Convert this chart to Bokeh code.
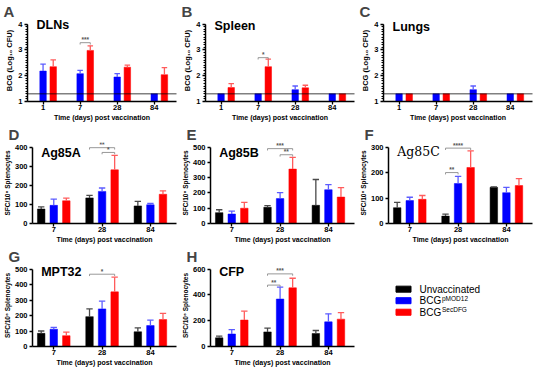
import numpy as np
from bokeh.plotting import figure
from bokeh.models import Range1d, FixedTicker, Span, Label
from bokeh.layouts import column, row
from bokeh.embed import file_html
from bokeh.resources import INLINE
from bokeh.core.properties import value

# ---------------- data ----------------
bcg_days = ["1", "7", "28", "84"]
elispot_days = ["7", "28", "84"]
group_names = ["Unvaccinated", "BCG", "BCG"]
group_sups = ["", "pMOD12", "SecDFG"]

dln_pmod = [2.18, 2.08, 1.95, 1.30]
dln_pmod_err = [0.27, 0.13, 0.13, 0.0]
dln_sec = [2.35, 2.98, 2.33, 2.04]
dln_sec_err = [0.26, 0.18, 0.08, 0.27]
spl_pmod = [1.30, 1.30, 1.46, 1.30]
spl_pmod_err = [0.0, 0.0, 0.14, 0.0]
spl_sec = [1.54, 2.35, 1.53, 1.30]
spl_sec_err = [0.15, 0.29, 0.10, 0.0]
lung_pmod = [1.30, 1.30, 1.46, 1.30]
lung_pmod_err = [0.0, 0.0, 0.14, 0.0]
lung_sec = [1.30, 1.30, 1.30, 1.30]
lung_sec_err = [0.0, 0.0, 0.0, 0.0]
detection_limit = 1.3

ag85a_unvac = [76, 134, 92]
ag85a_unvac_err = [11, 13, 24]
ag85a_pmod = [95, 168, 98]
ag85a_pmod_err = [33, 18, 7]
ag85a_sec = [119, 281, 153]
ag85a_sec_err = [14, 76, 18]

ag85b_unvac = [71, 106, 119]
ag85b_unvac_err = [19, 11, 169]
ag85b_pmod = [62, 163, 221]
ag85b_pmod_err = [19, 39, 33]
ag85b_sec = [100, 356, 173]
ag85b_sec_err = [38, 77, 62]

ag85c_unvac = [62, 29, 142]
ag85c_unvac_err = [21, 8, 2]
ag85c_pmod = [90, 157, 121]
ag85c_pmod_err = [13, 28, 21]
ag85c_sec = [95, 220, 149]
ag85c_sec_err = [15, 65, 27]

mpt32_unvac = [85, 193, 95]
mpt32_unvac_err = [15, 50, 25]
mpt32_pmod = [112, 243, 135]
mpt32_pmod_err = [12, 50, 35]
mpt32_sec = [70, 353, 174]
mpt32_sec_err = [23, 95, 40]

cfp_unvac = [67, 113, 101]
cfp_unvac_err = [13, 30, 23]
cfp_pmod = [97, 368, 191]
cfp_pmod_err = [34, 92, 62]
cfp_sec = [205, 455, 212]
cfp_sec_err = [69, 74, 50]

sig_dln = [(1, 1, 2, 3.28, "***")]
sig_spl = [(1, 1, 2, 2.70, "*")]
sig_ag85a = [(1, 0, 2, 397, "**"), (1, 1, 2, 372, "*")]
sig_ag85b = [(1, 0, 2, 490, "***"), (1, 1, 2, 450, "**")]
sig_ag85c = [(1, 0, 2, 296, "****"), (1, 0, 1, 200, "**")]
sig_mpt32 = [(1, 0, 2, 467, "*")]
sig_cfp = [(1, 0, 2, 563, "***"), (1, 0, 1, 476, "**")]

# ---------------- style ----------------
FONT = "Liberation Sans"
COLS = ["#000000", "#0000ff", "#ff0000"]
ECOLS = ["#4a4a4a", "#5c5cff", "#ff5c5c"]
W = 178
TOP = 13
BOT = 12
EXT = 5


def make_panel(letter, subtitle, days, bars, ylo, yhi, ystep, ylabel, sigs,
               sub_dy=3, bcg=False, serif=False, h=123):
    n = len(days)
    if bcg:
        xs, xe, bw, off = -0.42, n - 0.4, 0.175, 0.274
    else:
        xs, xe, bw, off = -0.44, n - 0.46, 0.155, 0.26
    frame_w = W - 29
    frame_h = h - TOP - 21
    axis_h = frame_h - EXT
    yspan = yhi - ylo
    ppu = axis_h / yspan
    ytop = yhi + EXT / ppu
    p = figure(width=W, height=h, x_range=Range1d(xs, xe),
               y_range=Range1d(ylo, ytop), output_backend="svg",
               toolbar_location=None, min_border_left=27, min_border_right=2,
               min_border_top=TOP, min_border_bottom=BOT)
    p.outline_line_color = None
    p.xgrid.visible = False
    p.ygrid.visible = False
    p.background_fill_color = "white"
    p.border_fill_color = "white"
    xspan = xe - xs

    if bcg:
        p.add_layout(Span(location=detection_limit, dimension="width",
                          line_color="black", line_dash="1 1", line_width=1.3))

    cw = bw * 0.85
    for slot, vals, errs in bars:
        x = [i + (slot - 1) * off for i in range(n)]
        p.vbar(x=x, top=vals, bottom=ylo, width=bw, fill_color=COLS[slot],
               line_color=COLS[slot], line_width=0.5)
        ex = [xi for xi, e in zip(x, errs) if e > 0]
        ev = [v for v, e in zip(vals, errs) if e > 0]
        et = [v + e for v, e in zip(vals, errs) if e > 0]
        p.segment(x0=ex, y0=ev, x1=ex, y1=et, line_color=ECOLS[slot], line_width=1.3)
        p.segment(x0=[xi - cw / 2 for xi in ex], y0=et,
                  x1=[xi + cw / 2 for xi in ex], y1=et,
                  line_color=ECOLS[slot], line_width=1.3)

    dy = 2.0 / ppu
    for g, a, b, y, lab in sigs:
        x0 = g + (a - 1) * off
        x1 = g + (b - 1) * off
        p.segment(x0=[x0, x0, x1], y0=[y, y, y], x1=[x1, x0, x1], y1=[y, y - dy, y - dy],
                  line_color="#8c8c8c", line_width=0.9)
        p.text(x=[(x0 + x1) / 2], y=[y - dy * 0.3], text=[lab], text_align="center",
               text_baseline="bottom", text_font_size="6.5px",
               text_font=value(FONT), text_font_style="bold", text_color="#555555")

    p.add_layout(Label(x=xs + 9 * xspan / frame_w, y=yhi - sub_dy / ppu,
                       text=subtitle, text_baseline="middle", text_align="left",
                       text_font=("DejaVu Serif" if serif else FONT),
                       text_font_style=("normal" if serif else "bold"),
                       text_font_size="12.5px", text_color="black"))

    p.title.text = letter
    p.title.text_font = FONT
    p.title.text_font_size = "15px"
    p.title.text_font_style = "bold"
    p.title.align = "left"
    p.title.offset = -24
    p.title.standoff = 0

    yt = list(np.arange(ylo, yhi + 1e-9, ystep))
    if bcg:
        minor = [m for m in np.arange(ylo, yhi + 1e-9, 0.1)]
        p.yaxis.ticker = FixedTicker(ticks=yt, minor_ticks=minor)
        p.yaxis.major_label_overrides = {t: str(int(round(t))) for t in yt}
    else:
        p.yaxis.ticker = FixedTicker(ticks=yt)
    p.yaxis.bounds = (ylo, yhi)
    p.xaxis.ticker = FixedTicker(ticks=list(range(n)))
    p.xaxis.major_label_overrides = {i: d for i, d in enumerate(days)}
    for ax in (p.xaxis[0], p.yaxis[0]):
        ax.axis_line_width = 1.5
        ax.axis_line_color = "black"
        ax.major_tick_line_width = 1.3
        ax.major_tick_line_color = "black"
        ax.major_tick_out = 3
        ax.major_tick_in = 0
        ax.minor_tick_out = 2
        ax.minor_tick_in = 0
        ax.minor_tick_line_color = "black"
        ax.major_label_text_font = FONT
        ax.major_label_text_font_style = "bold"
        ax.major_label_text_font_size = "7.5px"
        ax.major_label_text_color = "black"
        ax.axis_label_text_font = FONT
        ax.axis_label_text_font_style = "bold"
        ax.axis_label_text_color = "black"
    p.yaxis.major_label_standoff = 2
    p.yaxis.axis_label_standoff = 1
    p.yaxis.axis_label = ylabel
    p.yaxis.axis_label_text_font_size = ("7.5px" if bcg else "6.5px")
    p.xaxis.major_label_standoff = 0
    p.xaxis.axis_label_standoff = 1
    p.xaxis.major_label_text_line_height = 0.85
    p.xaxis.axis_label_text_line_height = 0.85
    p.xaxis.axis_label = "Time (days) post vaccination"
    p.xaxis.axis_label_text_font_size = "7px"
    return p


BCG_LABEL = "BCG (Log\u2081\u2080 CFU)"
SFC_LABEL = "SFC/10\u2076 Splenocytes"

pa = make_panel("A", "DLNs", bcg_days,
                [(1, dln_pmod, dln_pmod_err), (2, dln_sec, dln_sec_err)],
                1, 4, 1, BCG_LABEL, sig_dln, sub_dy=1, bcg=True)
pb = make_panel("B", "Spleen", bcg_days,
                [(1, spl_pmod, spl_pmod_err), (2, spl_sec, spl_sec_err)],
                1, 4, 1, BCG_LABEL, sig_spl, sub_dy=2, bcg=True)
pc = make_panel("C", "Lungs", bcg_days,
                [(1, lung_pmod, lung_pmod_err), (2, lung_sec, lung_sec_err)],
                1, 4, 1, BCG_LABEL, [], sub_dy=3, bcg=True)
pd = make_panel("D", "Ag85A", elispot_days,
                [(0, ag85a_unvac, ag85a_unvac_err), (1, ag85a_pmod, ag85a_pmod_err),
                 (2, ag85a_sec, ag85a_sec_err)],
                0, 400, 100, SFC_LABEL, sig_ag85a, sub_dy=6, h=122)
pe = make_panel("E", "Ag85B", elispot_days,
                [(0, ag85b_unvac, ag85b_unvac_err), (1, ag85b_pmod, ag85b_pmod_err),
                 (2, ag85b_sec, ag85b_sec_err)],
                0, 500, 100, SFC_LABEL, sig_ag85b, sub_dy=6, h=122)
pf = make_panel("F", "Ag85C", elispot_days,
                [(0, ag85c_unvac, ag85c_unvac_err), (1, ag85c_pmod, ag85c_pmod_err),
                 (2, ag85c_sec, ag85c_sec_err)],
                0, 300, 100, SFC_LABEL, sig_ag85c, sub_dy=5, serif=True, h=122)
pg = make_panel("G", "MPT32", elispot_days,
                [(0, mpt32_unvac, mpt32_unvac_err), (1, mpt32_pmod, mpt32_pmod_err),
                 (2, mpt32_sec, mpt32_sec_err)],
                0, 500, 100, SFC_LABEL, sig_mpt32, sub_dy=3)
ph = make_panel("H", "CFP", elispot_days,
                [(0, cfp_unvac, cfp_unvac_err), (1, cfp_pmod, cfp_pmod_err),
                 (2, cfp_sec, cfp_sec_err)],
                0, 600, 200, SFC_LABEL, sig_cfp, sub_dy=3)

# legend panel
LH = 123
leg = figure(width=W, height=LH, x_range=Range1d(0, W), y_range=Range1d(0, LH),
             output_backend="svg", toolbar_location=None, title=None,
             x_axis_location=None, y_axis_location=None,
             min_border=0, min_border_left=0, min_border_right=0,
             min_border_top=0, min_border_bottom=0)
leg.outline_line_color = None
leg.xgrid.visible = False
leg.ygrid.visible = False
leg.background_fill_color = "white"
leg.border_fill_color = "white"
row_y = [LH - 37 - 17.3 * i for i in range(len(group_names))]
leg.rect(x=[47] * len(group_names), y=row_y, width=15, height=9,
         fill_color=COLS, line_color=COLS)
leg.text(x=[63] * len(group_names), y=row_y, text=group_names,
         text_baseline="middle", text_align="left", text_font=value(FONT),
         text_font_size="10px", text_color="black")
sup_idx = [i for i, s in enumerate(group_sups) if s]
leg.text(x=[63 + 22.5] * len(sup_idx), y=[row_y[i] + 4 for i in sup_idx],
         text=[group_sups[i] for i in sup_idx], text_baseline="middle",
         text_align="left", text_font=value(FONT), text_font_size="6.5px",
         text_color="black")

layout = column(row(pa, pb, pc), row(pd, pe, pf), row(pg, ph, leg))
open("out.html", "w").write(file_html(layout, INLINE))
